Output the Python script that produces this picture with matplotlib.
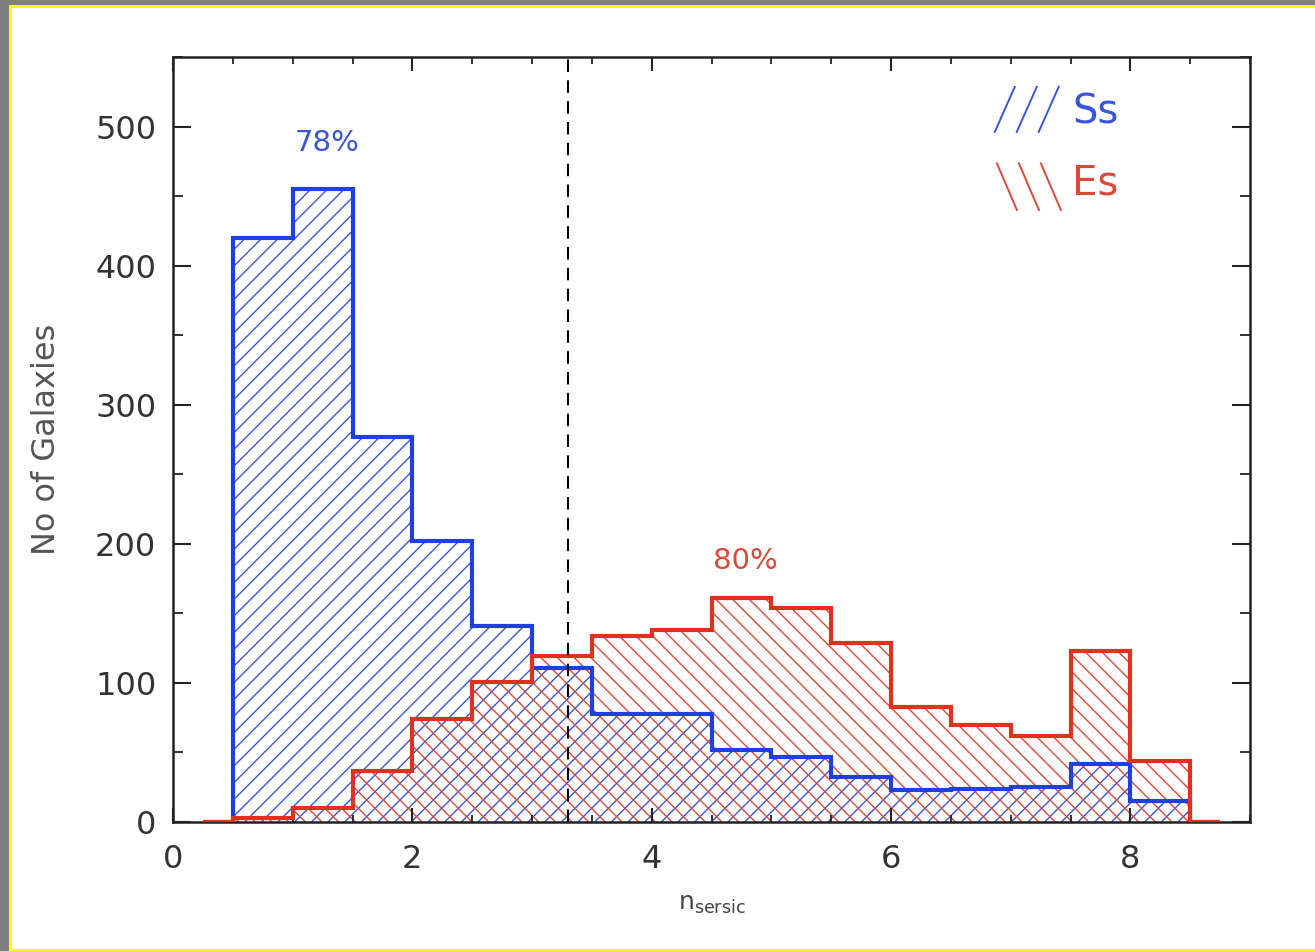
import numpy as np
import matplotlib
matplotlib.use("Agg")
import matplotlib.pyplot as plt
from matplotlib.lines import Line2D
from matplotlib.patches import Rectangle
from matplotlib.ticker import MultipleLocator

# Histogram bins (n_sersic), width 0.5, with empty half-bins at both ends
edges = np.array([0.25, 0.5, 1.0, 1.5, 2.0, 2.5, 3.0, 3.5, 4.0, 4.5,
                  5.0, 5.5, 6.0, 6.5, 7.0, 7.5, 8.0, 8.5, 8.75])
spirals = [0, 420, 455, 277, 202, 141, 111, 78, 78, 52,
           47, 32, 23, 24, 25, 42, 15, 0]
ellipticals = [0, 3, 10, 37, 74, 101, 119, 134, 138, 161,
               154, 129, 83, 70, 62, 123, 44, 0]
n_cut = 3.3
pct_labels = ["78%", "80%"]

BLUE = "#1f3fe0"
RED = "#e0301e"
BLUE_H = "#3a55d8"
RED_H = "#d84a3a"

DPI = 100
W, H = 1315, 951
fig = plt.figure(figsize=(W / DPI, H / DPI), dpi=DPI, facecolor="white")
plt.rcParams["hatch.linewidth"] = 1.0
plt.rcParams["font.family"] = ["DejaVu Sans"]

ax = fig.add_axes([173 / W, 129 / H, 1077 / W, 765 / H])

# hatched fills (hatch colour comes from edgecolor)
ax.stairs(spirals, edges, fill=True, facecolor="none", edgecolor=BLUE_H,
          hatch="//", linewidth=0, zorder=1)
ax.stairs(ellipticals, edges, fill=True, facecolor="none", edgecolor=RED_H,
          hatch="\\\\", linewidth=0, zorder=1)

# outlines
ax.stairs(spirals, edges, color=BLUE, linewidth=3.0, zorder=3)
ax.stairs(ellipticals, edges, color=RED, linewidth=3.0, zorder=4)

ax.axvline(n_cut, color="black", linestyle=(0, (6, 4)), linewidth=1.5, zorder=5)

ax.set_xlim(0, 9)
ax.set_ylim(0, 550)
ax.xaxis.set_major_locator(MultipleLocator(2))
ax.xaxis.set_minor_locator(MultipleLocator(0.5))
ax.yaxis.set_major_locator(MultipleLocator(100))
ax.yaxis.set_minor_locator(MultipleLocator(50))
ax.tick_params(which="both", direction="in", top=True, right=True,
               colors="#222222", labelsize=23, labelcolor="#333333")
ax.tick_params(axis="y", which="major", length=13, width=1.5, pad=12)
ax.tick_params(axis="y", which="minor", length=7, width=1.3)
ax.tick_params(axis="x", which="major", length=10, width=1.5, pad=16)
ax.tick_params(axis="x", which="minor", length=5, width=1.3)
for sp in ax.spines.values():
    sp.set_linewidth(1.8)
    sp.set_color("#222222")

ax.set_ylabel("No of Galaxies", fontsize=23, color="#555555", labelpad=24)
ax.set_xlabel(r"n$_{\rm sersic}$", fontsize=18, color="#444444", labelpad=12)

ax.text(1.29, 488, pct_labels[0], color=BLUE_H, fontsize=21, ha="center", va="center")
ax.text(4.78, 188, pct_labels[1], color=RED_H, fontsize=21, ha="center", va="center")

# legend: slanted strokes followed by the label
for i in range(3):
    x0 = 0.763 + i * 0.0204
    ax.add_line(Line2D([x0, x0 + 0.0186], [0.902, 0.961], transform=ax.transAxes,
                       color=BLUE_H, linewidth=1.4))
    ax.add_line(Line2D([x0 + 0.002, x0 + 0.0206], [0.861, 0.800], transform=ax.transAxes,
                       color=RED_H, linewidth=1.4))
ax.text(0.835, 0.927, "Ss", transform=ax.transAxes, color=BLUE_H, fontsize=29,
        va="center", ha="left")
ax.text(0.835, 0.835, "Es", transform=ax.transAxes, color=RED_H, fontsize=29,
        va="center", ha="left")

# grey/yellow frame around the figure
fig.patches.append(Rectangle((0, 0), 9 / W, 1, transform=fig.transFigure,
                             facecolor="#7f7f7f", edgecolor="none", zorder=0))
fig.patches.append(Rectangle((0, 1 - 5 / H), 1, 5 / H, transform=fig.transFigure,
                             facecolor="#7f7f7f", edgecolor="none", zorder=0))
fig.patches.append(Rectangle((9 / W, 0), 2.5 / W, 1 - 5 / H, transform=fig.transFigure,
                             facecolor="#ffff00", edgecolor="none", zorder=0))
fig.patches.append(Rectangle((9 / W, 1 - 7.5 / H), 1, 2.5 / H, transform=fig.transFigure,
                             facecolor="#ffff00", edgecolor="none", zorder=0))
fig.patches.append(Rectangle((9 / W, 0), 1, 2.5 / H, transform=fig.transFigure,
                             facecolor="#ffff00", edgecolor="none", zorder=0))

fig.savefig("out.png", dpi=DPI, facecolor="white")
